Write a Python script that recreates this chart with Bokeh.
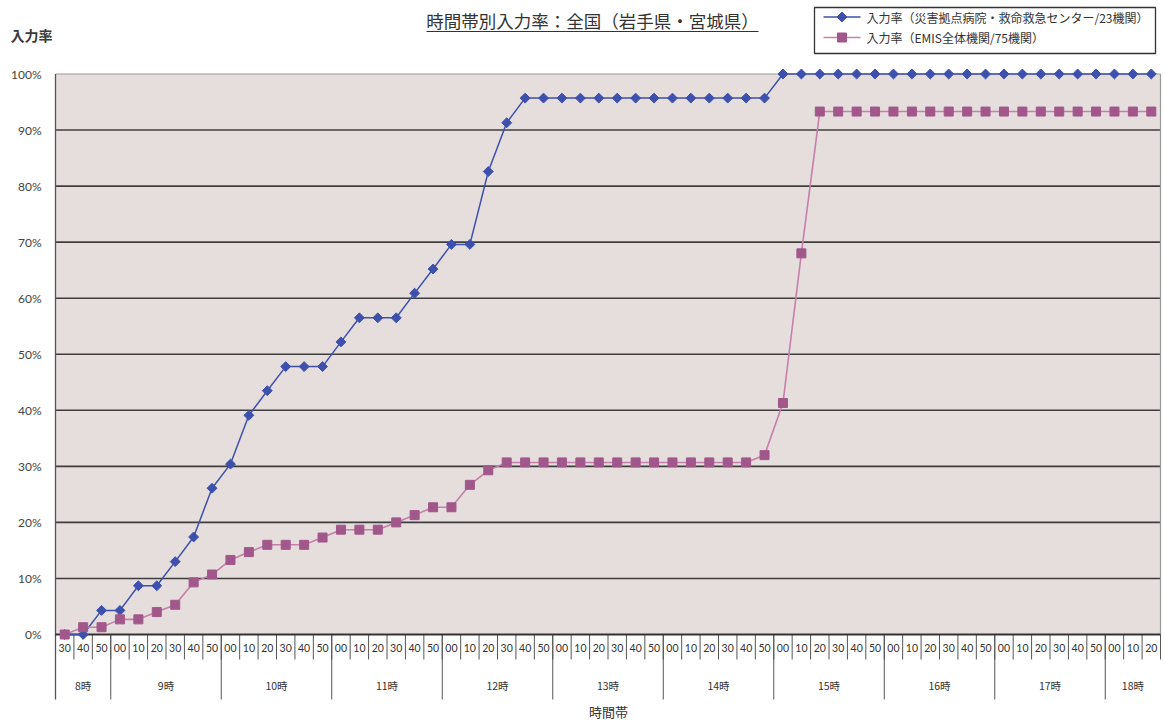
import numpy as np
from bokeh.plotting import figure
from bokeh.models import Range1d
from bokeh.core.properties import value
from bokeh.embed import file_html
from bokeh.resources import INLINE

# ---- texts ----
title_text = "時間帯別入力率：全国（岩手県・宮城県）"
y_title = "入力率"
x_title = "時間帯"
series_names = [
    "入力率（災害拠点病院・救命救急センター/23機関）",
    "入力率（EMIS全体機関/75機関）",
]

# ---- categories: hour groups with their 10-minute slots ----
hour_labels = ["8時", "9時", "10時", "11時", "12時", "13時",
               "14時", "15時", "16時", "17時", "18時"]
minute_groups = [
    ["30", "40", "50"],
    ["00", "10", "20", "30", "40", "50"],
    ["00", "10", "20", "30", "40", "50"],
    ["00", "10", "20", "30", "40", "50"],
    ["00", "10", "20", "30", "40", "50"],
    ["00", "10", "20", "30", "40", "50"],
    ["00", "10", "20", "30", "40", "50"],
    ["00", "10", "20", "30", "40", "50"],
    ["00", "10", "20", "30", "40", "50"],
    ["00", "10", "20", "30", "40", "50"],
    ["00", "10", "20"],
]

# ---- series values (%) ----
rate_disaster_hosp = [
    0.0, 0.0, 4.3,
    4.3, 8.7, 8.7, 13.0, 17.4, 26.1,
    30.4, 39.1, 43.5, 47.8, 47.8, 47.8,
    52.2, 56.5, 56.5, 56.5, 60.9, 65.2,
    69.6, 69.6, 82.6, 91.3, 95.7, 95.7,
    95.7, 95.7, 95.7, 95.7, 95.7, 95.7,
    95.7, 95.7, 95.7, 95.7, 95.7, 95.7,
    100.0, 100.0, 100.0, 100.0, 100.0, 100.0,
    100.0, 100.0, 100.0, 100.0, 100.0, 100.0,
    100.0, 100.0, 100.0, 100.0, 100.0, 100.0,
    100.0, 100.0, 100.0,
]
rate_emis_all = [
    0.0, 1.3, 1.3,
    2.7, 2.7, 4.0, 5.3, 9.3, 10.7,
    13.3, 14.7, 16.0, 16.0, 16.0, 17.3,
    18.7, 18.7, 18.7, 20.0, 21.3, 22.7,
    22.7, 26.7, 29.3, 30.7, 30.7, 30.7,
    30.7, 30.7, 30.7, 30.7, 30.7, 30.7,
    30.7, 30.7, 30.7, 30.7, 30.7, 32.0,
    41.3, 68.0, 93.3, 93.3, 93.3, 93.3,
    93.3, 93.3, 93.3, 93.3, 93.3, 93.3,
    93.3, 93.3, 93.3, 93.3, 93.3, 93.3,
    93.3, 93.3, 93.3,
]

y_ticks = [0, 10, 20, 30, 40, 50, 60, 70, 80, 90, 100]
y_tick_labels = ["0%", "10%", "20%", "30%", "40%", "50%",
                 "60%", "70%", "80%", "90%", "100%"]

# ---- colours ----
BLUE = "#3d50ad"
PINK_MARK = "#a2578b"
PINK_LINE = "#c57fab"
PLOT_BG = "#e5dedd"
GRID = "#3e3e3e"
TEXT = "#333333"

# ---- page geometry (pixels) and conversion to data units ----
W, H = 1165, 723
PX_LEFT, PX_RIGHT = 55, 1160
PX_ZERO, PX_FULL = 634, 73.5
minute_labels = [m for grp in minute_groups for m in grp]
N = len(minute_labels)
CW = (PX_RIGHT - PX_LEFT) / N
UH = (PX_ZERO - PX_FULL) / 100.0


def X(px):
    return (px - PX_LEFT) / CW


def Y(py):
    return (PX_ZERO - py) / UH


JP = value("Noto Sans CJK JP")
NUM = value("Lato")

p = figure(width=W, height=H, x_range=Range1d(X(0), X(W)), y_range=Range1d(Y(H), Y(0)),
           min_border=0, toolbar_location=None, output_backend="svg",
           x_axis_location=None, y_axis_location=None, title=None)
p.outline_line_color = None
p.background_fill_color = "white"
p.border_fill_color = "white"
p.grid.visible = False

# plot area
p.quad(left=[0], right=[N], bottom=[0], top=[100], fill_color=PLOT_BG, line_color=None)

# horizontal gridlines
inner = [t for t in y_ticks if 0 < t < 100]
p.segment(x0=[0] * len(inner), x1=[N] * len(inner), y0=inner, y1=inner,
          line_color=GRID, line_width=1.6)
# top and right border of the plot area
p.segment(x0=[0, N], x1=[N, N], y0=[100, 0], y1=[100, 100], line_color="#9a9a9a", line_width=1.2)

# category axis: slot separators and hour separators
slot_edges = list(range(1, N + 1))
p.segment(x0=slot_edges, x1=slot_edges, y0=[0] * len(slot_edges),
          y1=[Y(659)] * len(slot_edges), line_color="#555555", line_width=1)
hour_edges = []
acc = 0
for grp in minute_groups[:-1]:
    acc += len(grp)
    hour_edges.append(acc)
p.segment(x0=hour_edges, x1=hour_edges, y0=[0] * len(hour_edges),
          y1=[Y(699)] * len(hour_edges), line_color="#555555", line_width=1)
# axis lines
p.segment(x0=[0], x1=[0], y0=[Y(699)], y1=[100], line_color="#555555", line_width=1.3)
p.segment(x0=[0], x1=[N], y0=[0], y1=[0], line_color="#333333", line_width=1.8)

# slot labels
slot_x = [i + 0.5 for i in range(N)]
p.text(x=slot_x, y=[Y(647)] * N, text=minute_labels, text_font=NUM,
       text_font_size="10.5px", text_align="center", text_baseline="middle", text_color=TEXT)
# hour labels
hour_x = []
start = 0
for grp in minute_groups:
    hour_x.append(start + len(grp) / 2)
    start += len(grp)
p.text(x=hour_x, y=[Y(685)] * len(hour_x), text=hour_labels, text_font=JP,
       text_font_size="10.5px", text_align="center", text_baseline="middle", text_color=TEXT)

# series
p.line(slot_x, rate_disaster_hosp, line_color=BLUE, line_width=1.5)
p.scatter(slot_x, rate_disaster_hosp, marker="square", angle=np.pi / 4, size=7,
          fill_color=BLUE, line_color=BLUE)
p.line(slot_x, rate_emis_all, line_color=PINK_LINE, line_width=1.6)
p.scatter(slot_x, rate_emis_all, marker="square", size=9,
          fill_color=PINK_MARK, line_color=PINK_MARK)

# value axis labels
p.text(x=[X(41)] * len(y_ticks), y=y_ticks, text=y_tick_labels, text_font=NUM,
       text_font_size="12px", text_align="right", text_baseline="middle", text_color="#444444")
p.text(x=[X(10)], y=[Y(34)], text=[y_title], text_font=JP, text_font_size="14px",
       text_font_style="bold", text_align="left", text_baseline="middle", text_color="#3a3a3a")

# title with underline
p.text(x=[X(592)], y=[Y(20)], text=[title_text], text_font=JP, text_font_size="17.5px",
       text_align="center", text_baseline="middle", text_color=TEXT)
p.segment(x0=[X(426)], x1=[X(758)], y0=[Y(31)], y1=[Y(31)], line_color=TEXT, line_width=1.2)

# legend box
p.quad(left=[X(814)], right=[X(1155)], top=[Y(7)], bottom=[Y(53)],
       fill_color="white", line_color="#333333", line_width=1.3)
leg_y = [Y(16.5), Y(37)]
p.segment(x0=[X(823)] * 2, x1=[X(860)] * 2, y0=leg_y, y1=leg_y,
          line_color=[BLUE, PINK_LINE], line_width=1.5)
p.scatter([X(841.5)], [leg_y[0]], marker="square", angle=np.pi / 4, size=7,
          fill_color=BLUE, line_color=BLUE)
p.scatter([X(841.5)], [leg_y[1]], marker="square", size=9,
          fill_color=PINK_MARK, line_color=PINK_MARK)
p.text(x=[X(866)] * 2, y=leg_y, text=series_names, text_font=JP, text_font_size="12px",
       text_align="left", text_baseline="middle", text_color=TEXT)

# category axis title
p.text(x=[X(608)], y=[Y(711)], text=[x_title], text_font=JP, text_font_size="13px",
       text_align="center", text_baseline="middle", text_color=TEXT)

open("out.html", "w").write(file_html(p, INLINE))
